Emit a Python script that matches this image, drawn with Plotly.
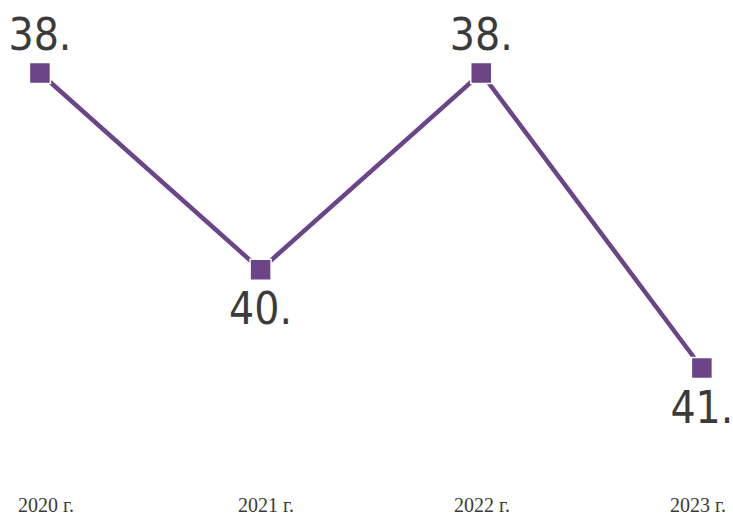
import plotly.graph_objects as go

categories = ["2020 г.", "2021 г.", "2022 г.", "2023 г."]
values = [38, 40, 38, 41]
labels = ["38.", "40.", "38.", "41."]
label_pos = ["top center", "bottom center", "top center", "bottom center"]

purple = "#6b4588"
text_color = "#3b3b3b"
x = list(range(len(categories)))

fig = go.Figure()
# line with square markers
fig.add_trace(go.Scatter(
    x=x, y=values,
    mode="lines+markers",
    line=dict(color=purple, width=4.5),
    marker=dict(symbol="square", size=21, color=purple, line=dict(color="white", width=1.5)),
    cliponaxis=False,
    hoverinfo="skip",
))
# value labels (transparent markers only set the label offset)
fig.add_trace(go.Scatter(
    x=x, y=values,
    mode="markers+text",
    marker=dict(size=[18, 32, 18, 33], color="rgba(0,0,0,0)", line=dict(width=0)),
    text=labels,
    textposition=label_pos,
    textfont=dict(family="DejaVu Sans Condensed, sans-serif", size=44, color=text_color),
    cliponaxis=False,
    hoverinfo="skip",
))

for i, cat in enumerate(categories):
    fig.add_annotation(
        x=i, y=0, xref="x", yref="paper",
        text=cat, showarrow=False,
        xanchor="center", yanchor="top",
        xshift=[6, 5, 1, -4][i], yshift=-7,
        font=dict(family="Liberation Serif, DejaVu Serif, serif", size=20, color=text_color),
    )

fig.update_layout(
    width=733, height=515,
    margin=dict(l=0, r=0, t=0, b=30),
    paper_bgcolor="white", plot_bgcolor="white",
    showlegend=False,
    hovermode=False,
    xaxis=dict(
        range=[-0.181, 3.141],
        showgrid=False, zeroline=False, showline=False, ticks="", showticklabels=False,
    ),
    yaxis=dict(
        range=[42.190, 37.258],
        showgrid=False, zeroline=False, showline=False, showticklabels=False, ticks="",
    ),
)

fig.write_html(
    "out.html",
    config={"displayModeBar": False, "staticPlot": True},
    post_script="document.body.style.margin='0';document.documentElement.style.overflow='hidden';document.body.style.overflow='hidden';",
)
